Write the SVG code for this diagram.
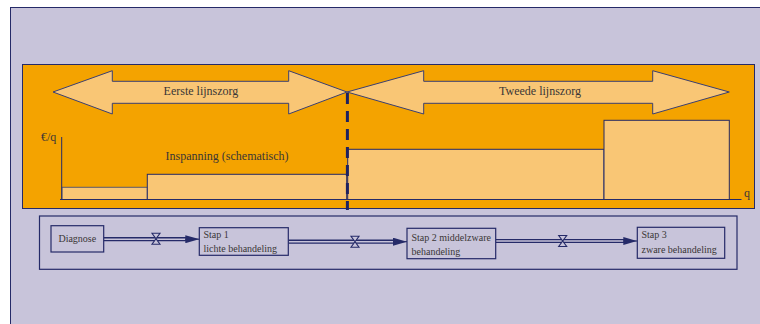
<svg xmlns="http://www.w3.org/2000/svg" width="760" height="324" viewBox="0 0 760 324">
  <style>
    .ink { stroke: #252a68; stroke-width: 1; }
    .bar { fill: #f9c675; stroke: #252a68; stroke-width: 1; }
    .band { fill: #f9c675; stroke: #3a3f72; stroke-width: 1; }
    .box { fill: #c8c4da; stroke: #252a68; stroke-width: 1.2; }
    .lbl { font-family: "Liberation Serif", "Times New Roman", serif; fill: #3a3636; }
    .big { font-size: 12px; }
    .small { font-size: 10px; }
    .pipe { fill: none; stroke: #252a68; stroke-width: 4.2; }
    .pipe-in { fill: none; stroke: #c8c4da; stroke-width: 1.4; }
  </style>
  <defs>
    <!-- flow valve: hourglass with caps -->
    <symbol id="valve" viewBox="-5 -6.5 10 13" width="10" height="13" overflow="visible">
      <path d="M-4,-5.5 H4 L-4,5.5 H4 Z" fill="#c8c4da" stroke="#252a68" stroke-width="1.1"/>
    </symbol>
    <marker id="head" viewBox="0 0 14 8" refX="14" refY="4" markerWidth="14" markerHeight="8" markerUnits="userSpaceOnUse" orient="auto">
      <path d="M0,0 L14,4 L0,8 Z" fill="#252a68"/>
    </marker>
  </defs>

  <!-- page background -->
  <rect x="0" y="0" width="760" height="324" fill="#ffffff"/>
  <rect x="10.5" y="7.5" width="800" height="400" fill="#c8c4da" stroke="#252a68" stroke-width="1"/>

  <!-- orange chart panel -->
  <rect x="22.5" y="64.5" width="732" height="144" fill="#f4a300" stroke="#252a68" stroke-width="1"/>

  <!-- care-line bands -->
  <g id="eerste">
    <polygon class="band" points="53,92 112.3,70.7 112.3,81.3 288.7,81.3 288.7,70.7 347,92 288.7,114 288.7,103.3 112.3,103.3 112.3,114"/>
    <text class="lbl big" x="201" y="95" text-anchor="middle">Eerste lijnszorg</text>
  </g>
  <g id="tweede">
    <polygon class="band" points="347,92 423.7,70.7 423.7,81.3 652.7,81.3 652.7,70.7 729.3,92 652.7,114 652.7,103.3 423.7,103.3 423.7,114"/>
    <text class="lbl big" x="540" y="95" text-anchor="middle">Tweede lijnszorg</text>
  </g>

  <!-- effort bars -->
  <g id="bars">
    <rect class="bar" x="62" y="187.3" width="85.3" height="12.2" style="stroke:#5b5a70"/>
    <rect class="bar" x="147.3" y="174.3" width="199.4" height="25.2"/>
    <rect class="bar" x="347.7" y="149.3" width="256.3" height="50.2"/>
    <rect class="bar" x="604" y="120.3" width="125.3" height="79.2"/>
    <text class="lbl big" x="227" y="160" text-anchor="middle">Inspanning (schematisch)</text>
  </g>

  <!-- axes -->
  <g id="axes">
    <line class="ink" x1="61.7" y1="137" x2="61.7" y2="199.5"/>
    <line class="ink" x1="60" y1="199.5" x2="741.5" y2="199.5"/>
    <text class="lbl big" x="41" y="141">€/q</text>
    <text class="lbl big" x="744" y="197">q</text>
  </g>

  <!-- boundary between first and second line care -->
  <line x1="347.4" y1="93" x2="347.4" y2="210" stroke="#1e2260" stroke-width="3" stroke-dasharray="11 7"/>

  <!-- treatment steps panel -->
  <rect x="39.5" y="216" width="697.5" height="53.3" fill="none" stroke="#252a68" stroke-width="1.2"/>

  <g id="connectors">
    <path class="pipe" d="M103.7,239.2 H186"/>
    <path class="pipe-in" d="M103.7,239.2 H186"/>
    <path d="M185,239.2 H199.3" stroke="#252a68" stroke-width="1" marker-end="url(#head)"/>
    <use href="#valve" x="151" y="232.3"/>

    <path class="pipe" d="M288.3,241.7 H394"/>
    <path class="pipe-in" d="M288.3,241.7 H394"/>
    <path d="M393,241.7 H407" stroke="#252a68" stroke-width="1" marker-end="url(#head)"/>
    <use href="#valve" x="350" y="235.3"/>

    <path class="pipe" d="M495.7,241 H624"/>
    <path class="pipe-in" d="M495.7,241 H624"/>
    <path d="M623,241 H637.3" stroke="#252a68" stroke-width="1" marker-end="url(#head)"/>
    <use href="#valve" x="557.7" y="234.5"/>
  </g>

  <g id="diagnose">
    <rect class="box" x="51" y="225.7" width="52.7" height="26.3"/>
    <text class="lbl small" x="77.3" y="242" text-anchor="middle">Diagnose</text>
  </g>
  <g id="stap1">
    <rect class="box" x="199.3" y="227.7" width="89" height="27.6"/>
    <text class="lbl small" x="203.5" y="238">Stap 1</text>
    <text class="lbl small" x="203.5" y="252.3">lichte behandeling</text>
  </g>
  <g id="stap2">
    <rect class="box" x="407" y="228.3" width="88.7" height="30.4"/>
    <text class="lbl small" x="411.5" y="240.7">Stap 2 middelzware</text>
    <text class="lbl small" x="411.5" y="254.7">behandeling</text>
  </g>
  <g id="stap3">
    <rect class="box" x="637.3" y="227.3" width="87.4" height="31"/>
    <text class="lbl small" x="641.5" y="238.3">Stap 3</text>
    <text class="lbl small" x="641.5" y="252.7">zware behandeling</text>
  </g>
</svg>
